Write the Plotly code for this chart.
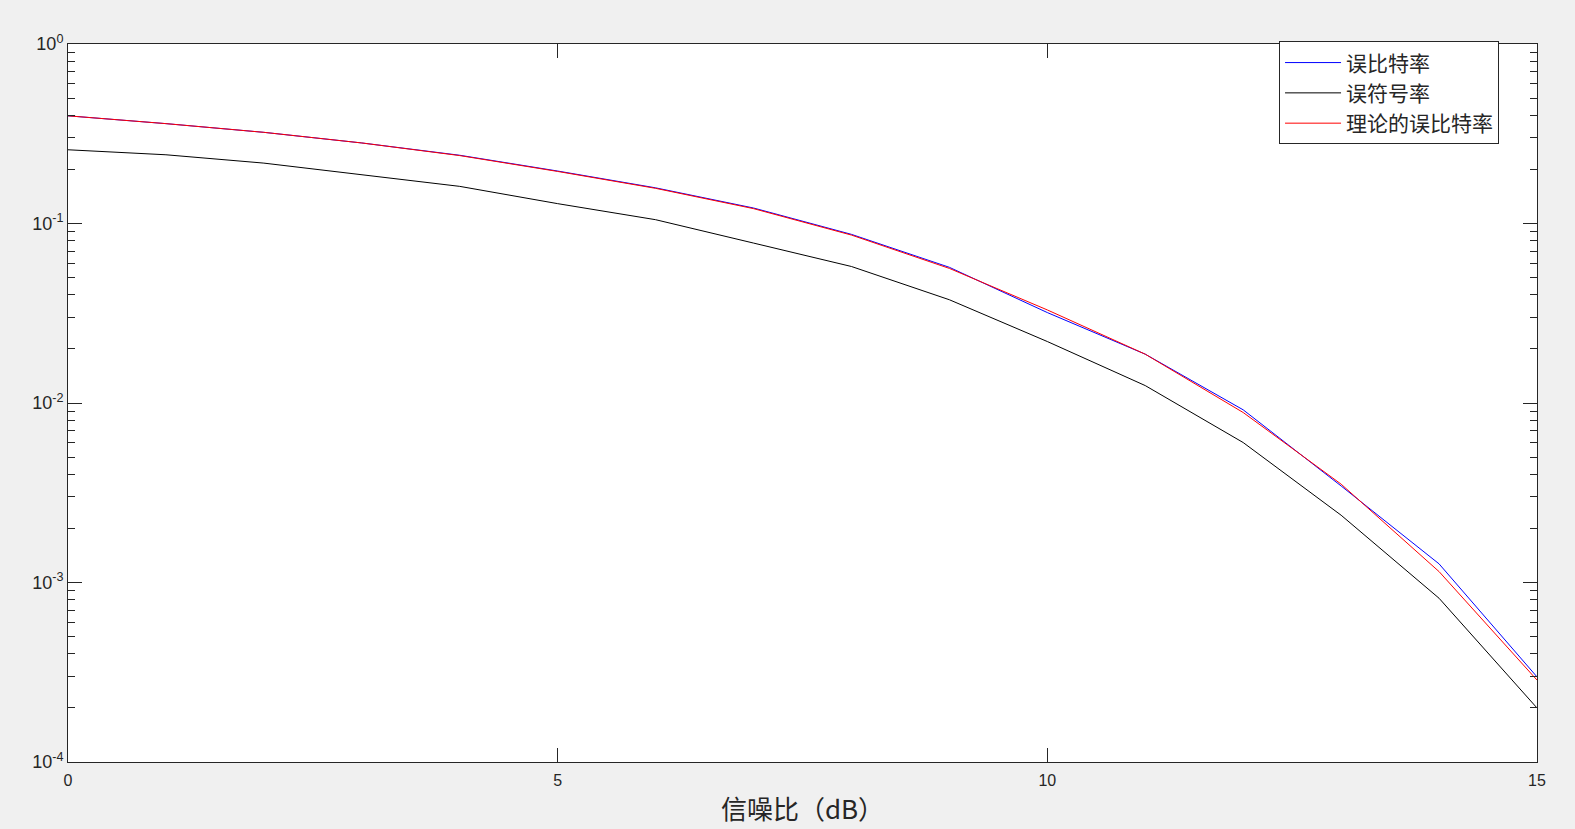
import plotly.graph_objects as go

snr_db = [0, 1, 2, 3, 4, 5, 6, 7, 8, 9, 10, 11, 12, 13, 14, 15]
ber_sim = [0.398, 0.360, 0.322, 0.281, 0.240, 0.196, 0.158, 0.122, 0.0870, 0.0570,
           0.0319, 0.0187, 0.00916, 0.00345, 0.00127, 0.000298]
ser_sim = [0.2575, 0.2415, 0.217, 0.187, 0.161, 0.129, 0.105, 0.0778, 0.0576, 0.0376,
           0.0220, 0.0125, 0.00602, 0.00237, 0.000817, 0.000200]
ber_theory = [0.398, 0.360, 0.322, 0.281, 0.239, 0.195, 0.157, 0.121, 0.0862, 0.0562,
              0.0330, 0.0187, 0.00885, 0.00353, 0.00115, 0.000286]

names = ["误比特率", "误符号率", "理论的误比特率"]
colors = ["#0000ff", "#000000", "#ff0000"]

y_major = [1e-4, 1e-3, 1e-2, 1e-1, 1]
y_major_text = ["10<sup>-4</sup>", "10<sup>-3</sup>", "10<sup>-2</sup>", "10<sup>-1</sup>", "10<sup>0</sup>"]
y_minor = [m * 10 ** e for e in range(-4, 0) for m in range(2, 10)]
x_major = [0, 5, 10, 15]

fig = go.Figure()
for ys, nm, c in zip([ber_sim, ser_sim, ber_theory], names, colors):
    fig.add_trace(go.Scatter(x=snr_db, y=ys, mode="lines", name=nm,
                             line=dict(color=c, width=1)))

axcol = "#262626"
fig.update_layout(
    width=1575, height=829,
    paper_bgcolor="#f0f0f0", plot_bgcolor="#ffffff",
    margin=dict(l=68, r=38, t=44, b=67),
    font=dict(family="Liberation Sans, Arial, sans-serif", color=axcol, size=16),
    showlegend=True,
    legend=dict(x=0.8244, y=1.0036, xanchor="left", yanchor="top",
                bgcolor="#ffffff", bordercolor="#262626", borderwidth=1,
                font=dict(family="Noto Sans CJK SC, sans-serif", size=21, color=axcol),
                itemwidth=56, tracegroupgap=0),
)
fig.update_xaxes(
    range=[0, 15], tickvals=x_major, ticktext=[str(v) for v in x_major],
    showgrid=False, zeroline=False, showline=True, linecolor=axcol, linewidth=1,
    mirror="allticks", ticks="inside", ticklen=14, tickcolor=axcol,
    tickfont=dict(size=16, color=axcol), ticklabelstandoff=4, automargin=False,
    title=dict(text="信噪比（dB）", font=dict(family="Noto Sans CJK SC, sans-serif", size=26, color=axcol),
               standoff=12),
)
fig.update_yaxes(
    type="log", range=[-4, 0], tickvals=y_major, ticktext=y_major_text,
    showgrid=False, zeroline=False, showline=True, linecolor=axcol, linewidth=1,
    mirror="allticks", ticks="inside", ticklen=14, tickcolor=axcol,
    tickfont=dict(size=18, color=axcol), automargin=False,
    minor=dict(tickvals=y_minor, ticks="inside", ticklen=7, tickcolor=axcol, showgrid=False),
)

fig.write_html("out.html", config={"displayModeBar": False},
               post_script="document.body.style.margin='0';document.body.style.overflow='hidden';")
